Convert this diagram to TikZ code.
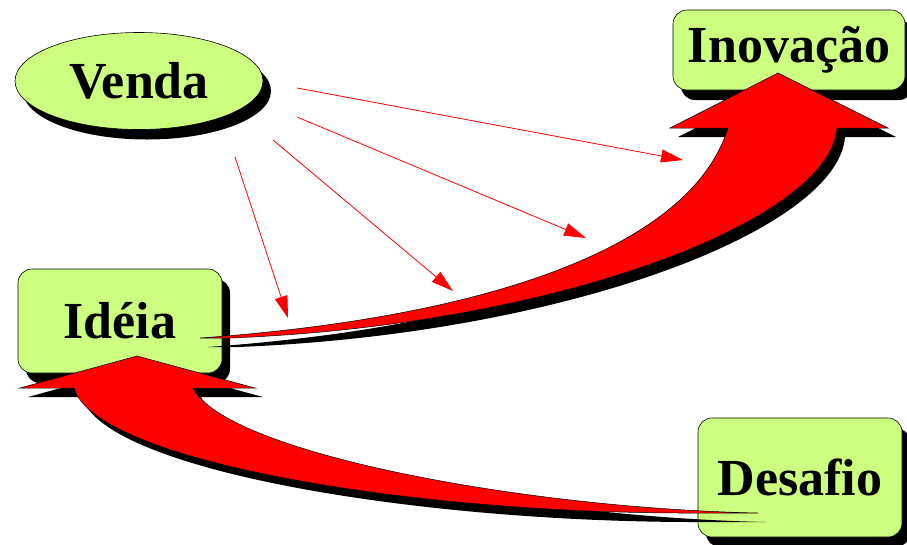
\documentclass[tikz,border=0pt]{standalone}
\usepackage{fontspec}
\setmainfont{Liberation Serif}
\usetikzlibrary{shapes.geometric, arrows.meta, shadows}

\definecolor{boxgreen}{RGB}{204,255,128}

% outlines of the two broad curved arrows
\newcommand{\ideaarrow}{(200,338) .. controls (480,318) and (690,250) .. (728,128)
    -- (670,128) -- (778,73) -- (888,128) -- (837,128)
    .. controls (830,220) and (560,325) .. (230,338) -- cycle}
\newcommand{\challengearrow}{(758,513) .. controls (520,508) and (225,452) .. (193,388)
    -- (255,388) -- (137,356) -- (20,388) -- (74,388)
    .. controls (95,460) and (400,512) .. (680,513) -- cycle}

\begin{document}
\begin{tikzpicture}[x=1pt, y=-1pt,
    bigtext/.style={font=\fontsize{52}{60}\selectfont\bfseries},
    hardshadow/.style={drop shadow={shadow xshift=8pt, shadow yshift=-10pt, fill=black, opacity=1}},
    card/.style={draw, line width=0.6pt, fill=boxgreen, rounded corners=14pt, inner sep=0pt, bigtext, hardshadow},
    bubble/.style={ellipse, draw, line width=0.6pt, fill=boxgreen, inner sep=0pt, bigtext, hardshadow},
    pointer/.style={red, line width=0.8pt, -{Triangle[length=22pt, width=13pt]}}]
    \useasboundingbox (0,0) rectangle (907,544);

    % concepts
    \node[bubble, minimum width=248pt, minimum height=97pt] (venda) at (139,81) {Venda};
    \node[card, minimum width=204pt, minimum height=104pt] (ideia) at (120,321) {Idéia};
    \node[card, minimum width=232pt, minimum height=80pt] (inovacao) at (789,50) {Inovação};
    \node[card, minimum width=204pt, minimum height=119pt] (desafio) at (800,477.5) {Desafio};

    % broad arrows with their shadows
    \fill[black, shift={(8,9)}] \ideaarrow;
    \filldraw[fill=red, draw=black, line width=0.5pt] \ideaarrow;
    \fill[black, shift={(8,9)}] \challengearrow;
    \filldraw[fill=red, draw=black, line width=0.5pt] \challengearrow;

    % thin arrows from Venda
    \coordinate (v1) at (297,88);  \coordinate (t1) at (683,160);
    \coordinate (v2) at (297,117); \coordinate (t2) at (586,238);
    \coordinate (v3) at (273,140); \coordinate (t3) at (453,291);
    \coordinate (v4) at (235,157); \coordinate (t4) at (288,318);
    \draw[pointer] (v1) -- (t1);
    \draw[pointer] (v2) -- (t2);
    \draw[pointer] (v3) -- (t3);
    \draw[pointer] (v4) -- (t4);
\end{tikzpicture}
\end{document}
